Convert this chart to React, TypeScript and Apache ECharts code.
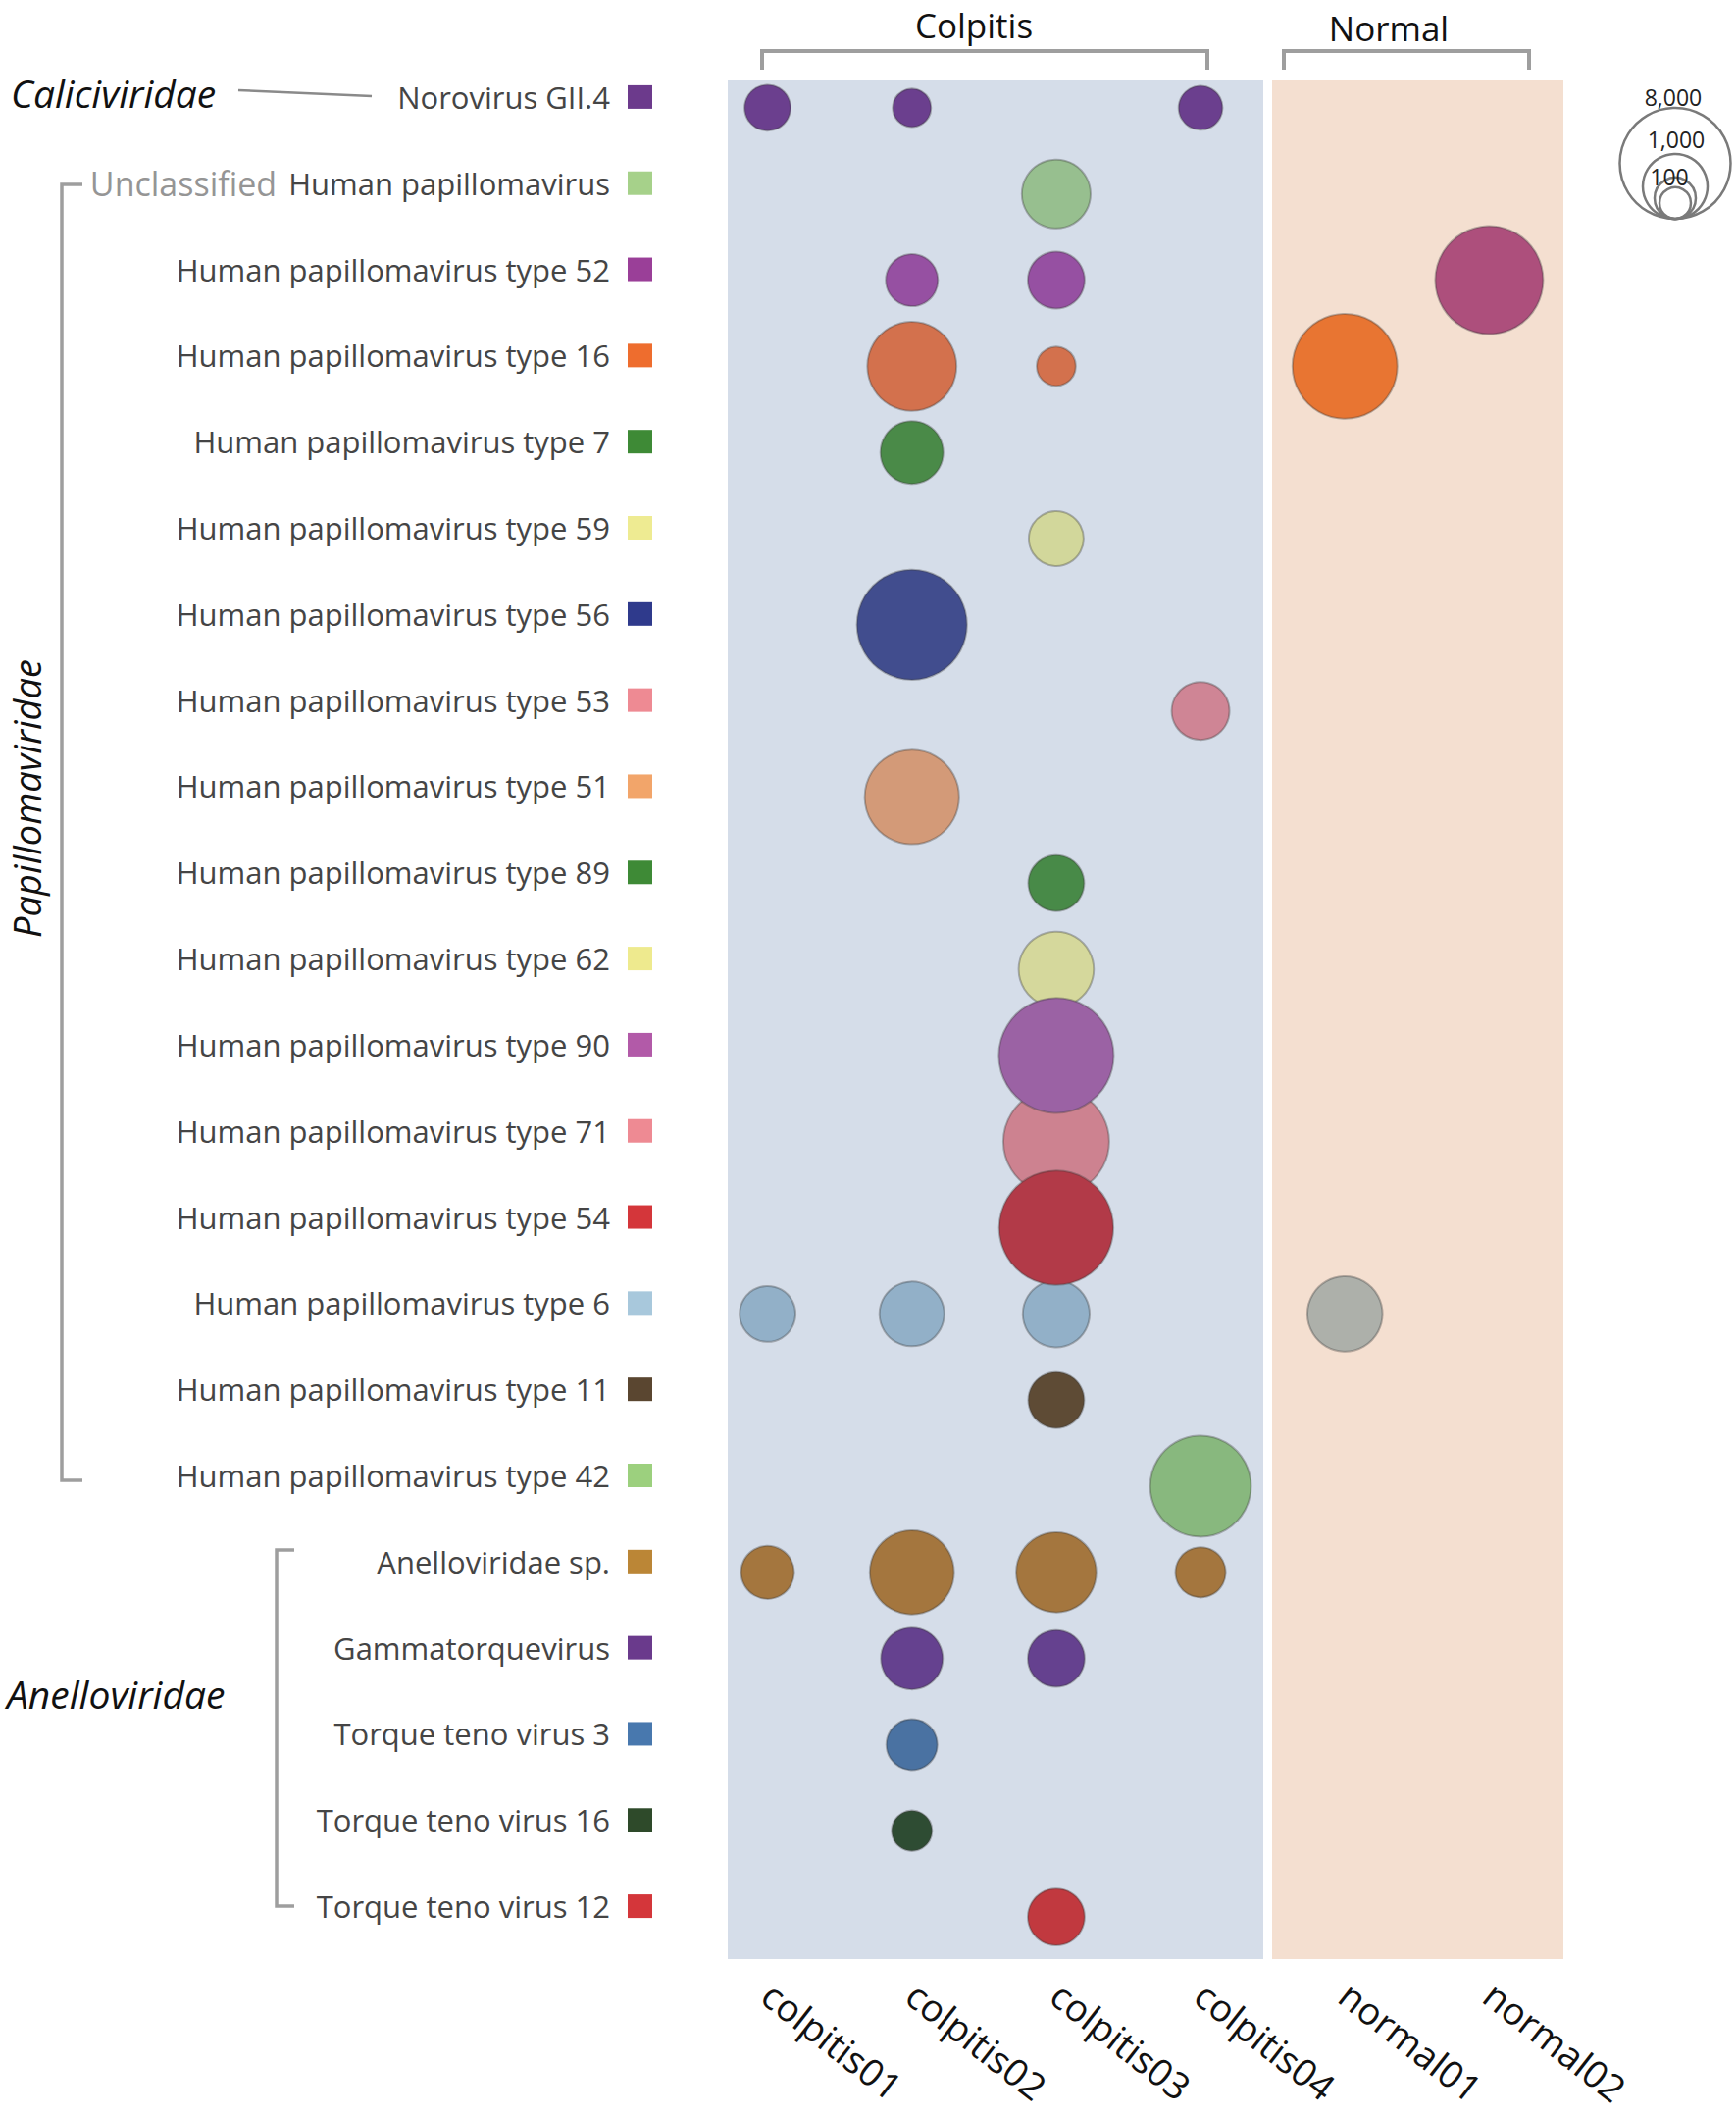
import React, { useEffect, useRef } from 'react';
import * as echarts from 'echarts';

// ---------- data ----------
const samples = ['colpitis01', 'colpitis02', 'colpitis03', 'colpitis04', 'normal01', 'normal02'];

const viruses = [
  'Norovirus GII.4',
  'Human papillomavirus',
  'Human papillomavirus type 52',
  'Human papillomavirus type 16',
  'Human papillomavirus type 7',
  'Human papillomavirus type 59',
  'Human papillomavirus type 56',
  'Human papillomavirus type 53',
  'Human papillomavirus type 51',
  'Human papillomavirus type 89',
  'Human papillomavirus type 62',
  'Human papillomavirus type 90',
  'Human papillomavirus type 71',
  'Human papillomavirus type 54',
  'Human papillomavirus type 6',
  'Human papillomavirus type 11',
  'Human papillomavirus type 42',
  'Anelloviridae sp.',
  'Gammatorquevirus',
  'Torque teno virus 3',
  'Torque teno virus 16',
  'Torque teno virus 12',
];

// read counts per sample, one entry per virus row (null = not detected)
const colpitis01 = [160, null, null, null, null, null, null, null, null, null, null, null, null, null, 420, null, null, 320, null, null, null, null];
const colpitis02 = [50, null, 290, 3000, 830, null, 7700, null, 3800, null, null, null, null, null, 1000, null, null, 2400, 750, 260, 80, null];
const colpitis03 = [null, 1200, 460, 60, null, 380, null, null, null, 420, 1600, 9600, 6400, 9300, 1100, 420, null, 2000, 460, null, null, 460];
const colpitis04 = [130, null, null, null, null, null, null, 510, null, null, null, null, null, null, null, null, 5100, 240, null, null, null, null];
const normal01 = [null, null, null, 6100, null, null, null, null, null, null, null, null, null, null, 1600, null, null, null, null, null, null, null];
const normal02 = [null, null, 7000, null, null, null, null, null, null, null, null, null, null, null, null, null, null, null, null, null, null, null];

const sampleValues = [colpitis01, colpitis02, colpitis03, colpitis04, normal01, normal02];

const legendValues = [8000, 1000, 100, 10];
const legendLabels = ['8,000', '1,000', '100', ''];

// ---------- styles ----------
const bubbleColors = [
  '#6b3f8e', '#97bf8f', '#9650a2', '#d3714d', '#4a8a48', '#d2d79b', '#414d8e', '#cf8595',
  '#d39a78', '#488a48', '#d5d89c', '#9b62a4', '#cd8290', '#b23a48', '#92b0c8', '#5e4b35',
  '#88b87e', '#a4763e', '#65418f', '#4a72a2', '#2e4c33', '#c1393f',
];
const squareColors = [
  '#6c3a8c', '#a6d18a', '#9a3f98', '#ee6d2e', '#3e8a36', '#eeeb92', '#2f3a8c', '#ee8a93',
  '#f2a56a', '#3e8a36', '#eeea8e', '#b25aa8', '#ee8a93', '#d4363a', '#a8c8dc', '#5a4630',
  '#9cd07e', '#bb8636', '#6a3a8c', '#4878ae', '#2e4a2a', '#d4363a',
];
const normalTint: Record<string, string> = {
  '5|2': '#ad4f7c',
  '4|3': '#e87532',
  '4|14': '#adb0aa',
};

const FONT = '"Open Sans", "Noto Sans", sans-serif';

// bubble diameter from value: piecewise interpolation on log10 scale
const sizeLogs = [1, 2, 3, Math.log10(8000)];
const sizePx = [32, 42, 66, 113];
function sizeFor(v: number): number {
  const l = Math.log10(v);
  let i = 0;
  while (i < sizeLogs.length - 2 && l > sizeLogs[i + 1]) i++;
  const t = (l - sizeLogs[i]) / (sizeLogs[i + 1] - sizeLogs[i]);
  return sizePx[i] + t * (sizePx[i + 1] - sizePx[i]);
}

const GRID = { left: 709, top: 66, width: 883, height: 1932 };

export default function App() {
  const ref = useRef<HTMLDivElement>(null);

  useEffect(() => {
    if (!ref.current) return;
    const chart = echarts.init(ref.current, undefined, { renderer: 'svg' });

    const points: [number, number, number][] = [];
    sampleValues.forEach((arr, si) => {
      arr.forEach((v, vi) => {
        if (v != null) points.push([si, vi, v]);
      });
    });
    points.sort((a, b) => a[2] - b[2]);

    const rich: Record<string, any> = {
      t: { fontSize: 31, color: '#454545', fontFamily: FONT, lineHeight: 40, verticalAlign: 'middle' },
      u: { fontSize: 34, color: '#959595', fontFamily: FONT, lineHeight: 40, verticalAlign: 'middle' },
      ug: { width: 12, height: 24 },
      g: { width: 18, height: 24 },
    };
    squareColors.forEach((c, i) => {
      rich['s' + i] = { width: 25, height: 24, backgroundColor: c, verticalAlign: 'middle' };
    });

    // legend circles (bottom-aligned, nested)
    const legCx = 1708;
    const legBottom = 223;
    const legendEls: any[] = [];
    legendValues.forEach((v) => {
      const r = sizeFor(v) / 2;
      legendEls.push({
        type: 'circle',
        shape: { cx: legCx, cy: legBottom - r, r },
        style: { fill: 'rgba(255,255,255,0)', stroke: '#7a7a7a', lineWidth: 2.5 },
      });
    });
    const legendTextY = [99, 142, 180, 0];
    const legendTextX = [1706, 1709, 1702, 0];
    legendLabels.forEach((s, i) => {
      if (!s) return;
      legendEls.push({
        type: 'text',
        x: legendTextX[i],
        y: legendTextY[i],
        style: { text: s, fontSize: 23, fill: '#222', fontFamily: FONT, align: 'center', verticalAlign: 'middle' },
        z: 10,
      });
    });

    const bracketStyle = { stroke: '#9e9e9e', lineWidth: 4, fill: null };
    const groupFont = { fontSize: 39, fontStyle: 'italic', fill: '#111', fontFamily: FONT };

    const option: any = {
      animation: false,
      backgroundColor: '#ffffff',
      grid: { left: GRID.left, top: GRID.top, width: GRID.width, height: GRID.height, containLabel: false },
      xAxis: {
        type: 'category',
        data: samples,
        boundaryGap: true,
        axisLine: { show: false },
        axisTick: { show: false },
        splitLine: { show: false },
        axisLabel: {
          rotate: -38,
          fontSize: 38,
          color: '#111',
          fontFamily: FONT,
          margin: 30,
          interval: 0,
        },
      },
      yAxis: {
        type: 'category',
        data: viruses,
        inverse: true,
        boundaryGap: true,
        axisLine: { show: false },
        axisTick: { show: false },
        splitLine: { show: false },
        axisLabel: {
          interval: 0,
          margin: 44,
          padding: [0, 0, 22, 0],
          formatter: (value: string, index: number) =>
            index === 1
              ? `{u|Unclassified}{ug|}{t|${value}}{g|}{s${index}|}`
              : `{t|${value}}{g|}{s${index}|}`,
          rich,
        },
      },
      graphic: {
        elements: [
          { type: 'rect', shape: { x: 742, y: 82, width: 546, height: 1915 }, style: { fill: '#d5dde9' }, z: -10 },
          { type: 'rect', shape: { x: 1297, y: 82, width: 297, height: 1915 }, style: { fill: '#f4dfd0' }, z: -10 },
          { type: 'polyline', shape: { points: [[777, 71], [777, 52], [1231, 52], [1231, 71]] }, style: bracketStyle },
          { type: 'polyline', shape: { points: [[1309, 71], [1309, 52], [1559, 52], [1559, 71]] }, style: bracketStyle },
          { type: 'text', x: 993, y: 25, style: { text: 'Colpitis', fontSize: 35, fill: '#111', fontFamily: FONT, align: 'center', verticalAlign: 'middle' } },
          { type: 'text', x: 1416, y: 28, style: { text: 'Normal', fontSize: 35, fill: '#111', fontFamily: FONT, align: 'center', verticalAlign: 'middle' } },
          { type: 'text', x: 11, y: 94, style: { ...groupFont, text: 'Caliciviridae', align: 'left', verticalAlign: 'middle' } },
          { type: 'line', shape: { x1: 243, y1: 92, x2: 379, y2: 98 }, style: { stroke: '#8a8a8a', lineWidth: 2.5 } },
          { type: 'text', x: 27, y: 814, rotation: Math.PI / 2, style: { ...groupFont, fontSize: 38, text: 'Papillomaviridae', align: 'center', verticalAlign: 'middle' } },
          { type: 'polyline', shape: { points: [[84, 188], [63, 188], [63, 1509], [84, 1509]] }, style: { ...bracketStyle, lineWidth: 3.5 } },
          { type: 'text', x: 7, y: 1726, style: { ...groupFont, text: 'Anelloviridae', align: 'left', verticalAlign: 'middle' } },
          { type: 'polyline', shape: { points: [[300, 1580], [282, 1580], [282, 1943], [300, 1943]] }, style: { ...bracketStyle, lineWidth: 3.5 } },
          ...legendEls,
        ],
      },
      series: [
        {
          type: 'scatter',
          data: points,
          encode: { x: 0, y: 1 },
          symbol: 'circle',
          symbolSize: (val: number[]) => sizeFor(val[2]),
          itemStyle: {
            color: (p: any) => {
              const [si, vi] = p.data;
              return normalTint[si + '|' + vi] || bubbleColors[vi];
            },
            borderColor: 'rgba(60,60,60,0.35)',
            borderWidth: 2,
            opacity: 1,
          },
          z: 5,
        },
      ],
    };

    chart.setOption(option);
    return () => chart.dispose();
  }, []);

  return (
    <div
      ref={ref}
      style={{ position: 'absolute', left: 0, top: 0, width: 1770, height: 2157, background: '#fff' }}
    />
  );
}
